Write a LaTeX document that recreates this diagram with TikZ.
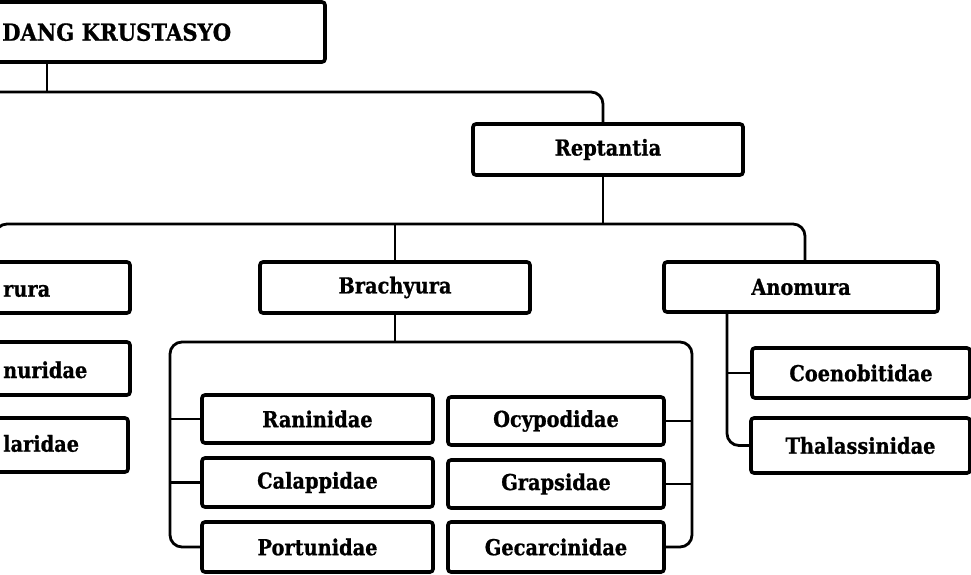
\documentclass[tikz,border=0pt]{standalone}
\usepackage{fontspec}
\newfontfamily\boxfont{DejaVu Serif}[FakeStretch=0.88, BoldFeatures={FakeBold=0.8}]
\newfontfamily\titlefont{DejaVu Serif}[FakeStretch=0.90, BoldFeatures={FakeBold=0.8}]
\begin{document}
\begin{tikzpicture}[x=1pt,y=-1pt,
  box/.style={draw=black, line width=3.6pt, rounded corners=3pt, fill=white,
    inner sep=0pt, outer sep=0pt, font=\boxfont\bfseries\fontsize{22}{24}\selectfont},
  lbl/.style={inner sep=0pt, font=\boxfont\bfseries\fontsize{22}{24}\selectfont},
  conn/.style={draw=black, line width=2.8pt},
  elbow/.style={conn, rounded corners=12pt}]
\fill[white] (0,0) rectangle (971,575);
\useasboundingbox (0,0) rectangle (971,575);
\begin{scope}
\clip (0,0) rectangle (971,575);
% connectors
\coordinate (j1) at (47,92);
\coordinate (hL) at (-60,92);
\coordinate (j2) at (603,224);
\coordinate (bl) at (170,342);
\coordinate (br) at (692,342);
\coordinate (a4x) at (727,0);
\coordinate (repx) at (603,0);
\coordinate (anox) at (805,0);

% boxes
\node[box, minimum width=525pt, minimum height=60pt] (top) at (62.5,32) {};
\node[lbl, anchor=base west, font=\titlefont\bfseries\fontsize{23.5}{26}\selectfont] (toptitle) at (2,40.7) {DANG KRUSTASYO};
\node[box, minimum width=270pt, minimum height=51pt] (mac) at (-5,287.5) {};
\node[lbl, anchor=base west] (mactext) at (3,296.7) {rura};
\node[box, minimum width=270pt, minimum height=51pt] (rep) at (608,149.5) {Reptantia};
\node[box, minimum width=270pt, minimum height=51pt] (bra) at (395,287.5) {Brachyura};
\node[box, minimum width=274pt, minimum height=50pt] (ano) at (801,287) {Anomura};
\node[box, minimum width=270pt, minimum height=53pt] (pal) at (-5,368.5) {};
\node[lbl, anchor=base west] (paltext) at (3,378) {nuridae};
\node[box, minimum width=268pt, minimum height=54pt] (scy) at (-6,445) {};
\node[lbl, anchor=base west] (scytext) at (3,451.7) {laridae};
\node[box, minimum width=231pt, minimum height=48pt] (ran) at (317.5,419) {Raninidae};
\node[box, minimum width=231pt, minimum height=49pt] (cal) at (317.5,482.5) {Calappidae};
\node[box, minimum width=231pt, minimum height=50pt] (por) at (317.5,547) {Portunidae};
\node[box, minimum width=216pt, minimum height=48pt] (ocy) at (556,421) {Ocypodidae};
\node[box, minimum width=216pt, minimum height=48pt] (gra) at (556,484) {Grapsidae};
\node[box, minimum width=216pt, minimum height=50pt] (gec) at (556,547) {Gecarcinidae};
\node[box, minimum width=218pt, minimum height=50pt] (coe) at (861,373) {Coenobitidae};
\node[box, minimum width=219pt, minimum height=55pt] (tha) at (860.5,445.5) {Thalassinidae};

% top level
\draw[conn] (j1 |- top.south) -- (j1);
\draw[elbow] (hL) -| (rep.north -| repx);
% Reptantia
\draw[conn] (rep.south -| j2) -- (j2);
\draw[elbow] (mac.north) |- (j2) -| (ano.north -| anox);
\draw[conn] (bra.north) -- (bra.north |- j2);
% Brachyura
\draw[conn] (bra.south) -- (bra.south |- bl);
\draw[elbow] (por.west) -| (bl) -- (br) |- (gec.east);
\draw[conn] (ran.west) -- (ran.west -| bl);
\draw[conn] (cal.west) -- (cal.west -| bl);
\draw[conn] (ocy.east) -- (ocy.east -| br);
\draw[conn] (gra.east) -- (gra.east -| br);
% Anomura
\draw[elbow] (ano.south -| a4x) |- (tha.west);
\draw[conn] (coe.west) -- (coe.west -| a4x);
\end{scope}
\end{tikzpicture}
\end{document}
